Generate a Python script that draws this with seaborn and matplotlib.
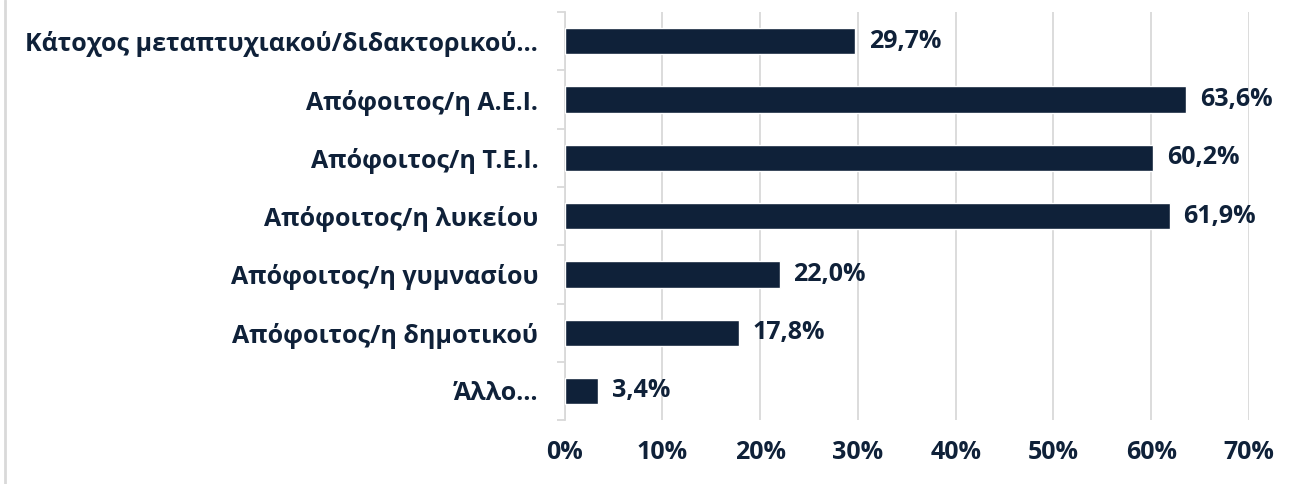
import matplotlib
matplotlib.use("Agg")
import matplotlib.pyplot as plt
import seaborn as sns
import pandas as pd
import numpy as np
from matplotlib.lines import Line2D

categories = [
    "Κάτοχος μεταπτυχιακού/διδακτορικού…",
    "Απόφοιτος/η Α.Ε.Ι.",
    "Απόφοιτος/η Τ.Ε.Ι.",
    "Απόφοιτος/η λυκείου",
    "Απόφοιτος/η γυμνασίου",
    "Απόφοιτος/η δημοτικού",
    "Άλλο…",
]
values = [29.7, 63.6, 60.2, 61.9, 22.0, 17.8, 3.4]
x_ticks = [0, 10, 20, 30, 40, 50, 60, 70]

navy = "#0F2139"
grid_c = "#D9D9D9"

sns.set_theme(style="white")
plt.rcParams["font.family"] = ["Open Sans", "DejaVu Sans"]
plt.rcParams["font.weight"] = "bold"

df = pd.DataFrame({"cat": categories, "val": values})

fig = plt.figure(figsize=(12.95, 4.84), dpi=100)
ax = fig.add_axes([0.436, 0.132, 0.5285, 0.843])

sns.barplot(data=df, y="cat", x="val", orient="h", color=navy,
            saturation=1, width=0.45, ax=ax, zorder=3)

ax.set_xlim(0, 70)
ax.set_ylim(len(categories) - 0.5, -0.5)
ax.set_xticks(x_ticks)
ax.set_xticklabels([f"{t}%" for t in x_ticks])
ax.set_xlabel("")
ax.set_ylabel("")
ax.xaxis.grid(True, color=grid_c, linewidth=1.3, zorder=0)
ax.yaxis.grid(False)
for s in ["top", "right", "bottom"]:
    ax.spines[s].set_visible(False)
ax.spines["left"].set_color(grid_c)
ax.spines["left"].set_linewidth(1.3)

fs = 18
ax.tick_params(axis="x", length=0, pad=14, labelsize=fs, labelcolor=navy)
ax.tick_params(axis="y", which="major", length=0, pad=19, labelsize=fs, labelcolor=navy)
ax.set_yticks(np.arange(-0.5, len(categories), 1.0), minor=True)
ax.tick_params(axis="y", which="minor", left=True, length=6, width=1.3, color=grid_c, direction="out")
for lbl in ax.get_xticklabels() + ax.get_yticklabels():
    lbl.set_fontweight("bold")

for i, v in enumerate(values):
    ax.text(v + 1.4, i, f"{v:.1f}%".replace(".", ","), va="center", ha="left",
            fontsize=fs, fontweight="bold", color=navy, zorder=4)

fig.add_artist(Line2D([0.004, 0.004], [0.0, 1.0], color=grid_c, linewidth=2,
                      transform=fig.transFigure))

fig.savefig("out.png", dpi=100, facecolor="white")
